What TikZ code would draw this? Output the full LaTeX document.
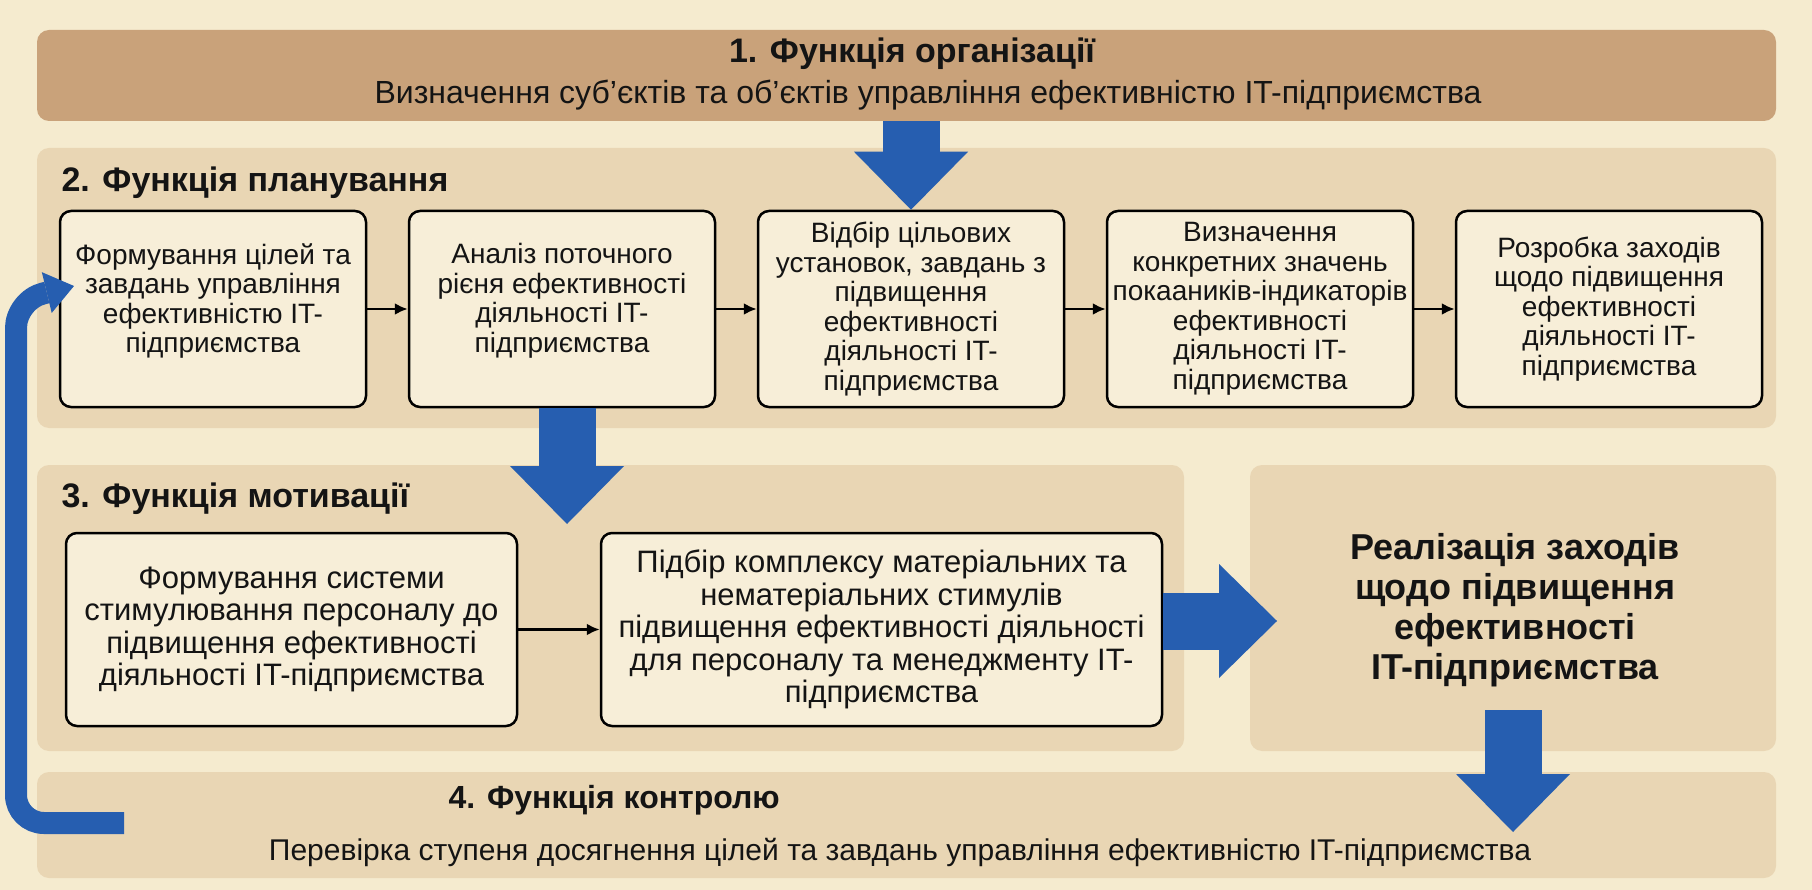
\documentclass[tikz,border=0pt]{standalone}
\usepackage{fontspec}
\setmainfont{Liberation Sans}
\usetikzlibrary{arrows.meta,positioning,calc}

\definecolor{bgcream}{HTML}{F5EBCF}
\definecolor{orgtan}{HTML}{C9A27A}
\definecolor{bandtan}{HTML}{E9D6B4}
\definecolor{boxfill}{HTML}{F7EED8}
\definecolor{flowblue}{HTML}{265EB0}
\definecolor{inkdark}{HTML}{141414}

\begin{document}
\begin{tikzpicture}[
  x=1pt, y=-1pt,
  >=Latex,
  band/.style={rounded corners=12pt, fill=bandtan, inner sep=0pt},
  box/.style={draw=black, line width=2.5pt, rounded corners=11pt, fill=boxfill,
    minimum height=196pt, align=center, inner sep=1pt, text=inkdark,
    font=\fontsize{28}{29.5}\selectfont},
  hibox/.style={box, text depth=22pt},
  mbox/.style={box, minimum height=193pt, font=\fontsize{31}{32.5}\selectfont},
  ttl/.style={font=\bfseries\fontsize{34}{38}\selectfont, text=inkdark},
  sub/.style={font=\fontsize{30}{34}\selectfont, text=inkdark},
  arr/.style={-{Latex[length=13pt,width=12pt]}, line width=2.7pt},
  bigarr/.style={line width=57pt, draw=flowblue,
    -{Triangle[width=114pt,length=58pt,line width=0pt]}},
  fb/.style={line width=22pt, draw=flowblue, rounded corners=28pt,
    -{Triangle[width=42pt,length=28pt,line width=0pt]}}
]
  \fill[bgcream] (0,0) rectangle (1812,890);

  % bands
  \node[band, fill=orgtan, minimum width=1739pt, minimum height=91pt] (org) at (906.5,75.5) {};
  \node[band, minimum width=1739pt, minimum height=280pt] (plan) at (906.5,288) {};
  \node[band, minimum width=1147pt, minimum height=286pt] (motiv) at (610.5,608) {};
  \node[band, minimum width=526pt, minimum height=286pt] (real) at (1513,608) {};
  \node[band, minimum width=1739pt, minimum height=106pt] (ctrl) at (906.5,825) {};

  % 1. organisation
  \node[ttl] (orgT) at (912,54) {1. Функція організації};
  \node[sub, font=\fontsize{32}{36}\selectfont] (orgS) at (928,95) {Визначення суб’єктів та об’єктів управління ефективністю IT-підприємства};

  % 2. planning
  \node[ttl, anchor=west] (planT) at (58,183) {2. Функція планування};
  \node[hibox, minimum width=306pt] (b1) at (213,309) {Формування цілей та\\завдань управління\\ефективністю IT-\\підприємства};
  \node[hibox, minimum width=306pt] (b2) at (562,309) {Аналіз поточного\\рієня ефективності\\діяльності IT-\\підприємства};
  \node[box, minimum width=306pt] (b3) at (911,309) {Відбір цільових\\установок, завдань з\\підвищення\\ефективності\\діяльності IT-\\підприємства};
  \node[box, minimum width=306pt] (b4) at (1260,309) {Визначення\\конкретних значень\\покааників-індикаторів\\ефективності\\діяльності IT-\\підприємства};
  \node[box, minimum width=306pt] (b5) at (1609,309) {Розробка заходів\\щодо підвищення\\ефективності\\діяльності IT-\\підприємства};

  \draw[arr] (b1) -- (b2);
  \draw[arr] (b2) -- (b3);
  \draw[arr] (b3) -- (b4);
  \draw[arr] (b4) -- (b5);

  % 3. motivation
  \node[ttl, anchor=west] (motivT) at (58,499) {3. Функція мотивації};
  \node[mbox, minimum width=451pt] (m1) at (291.5,629.5) {Формування системи\\стимулювання персоналу до\\підвищення ефективності\\діяльності IT-підприємства};
  \node[mbox, minimum width=561pt] (m2) at (881.5,629.5) {Підбір комплексу матеріальних та\\нематеріальних стимулів\\підвищення ефективності діяльності\\для персоналу та менеджменту IT-\\підприємства};
  \draw[arr] (m1) -- (m2);

  \node[font=\bfseries\fontsize{36}{40}\selectfont, align=center, text=inkdark] (realT) at (1515,610)
    {Реалізація заходів\\щодо підвищення\\ефективності\\IT-підприємства};

  % 4. control
  \node[ttl, anchor=west, font=\bfseries\fontsize{32}{36}\selectfont] (ctrlT) at (445,800) {4. Функція контролю};
  \node[sub] (ctrlS) at (900,852) {Перевірка ступеня досягнення цілей та завдань управління ефективністю IT-підприємства};

  % block arrows
  \coordinate (motivIn) at (567,524);
  \coordinate (realIn) at (1277,621);
  \coordinate (realOut) at (1513,710);
  \coordinate (ctrlIn) at (1513,832);
  \coordinate (fbS) at (124,823);
  \coordinate (fbE) at (74,286);

  \draw[bigarr] (org.south -| b3) -- (b3.north);
  \draw[bigarr] (b2.south -| motivIn) -- (motivIn);
  \draw[bigarr] (m2.east |- realIn) -- (realIn);
  \draw[bigarr] (realOut) -- (ctrlIn);
  \draw[fb] (fbS) -- (16,823) -- (16,300) -- (fbE);
\end{tikzpicture}
\end{document}
